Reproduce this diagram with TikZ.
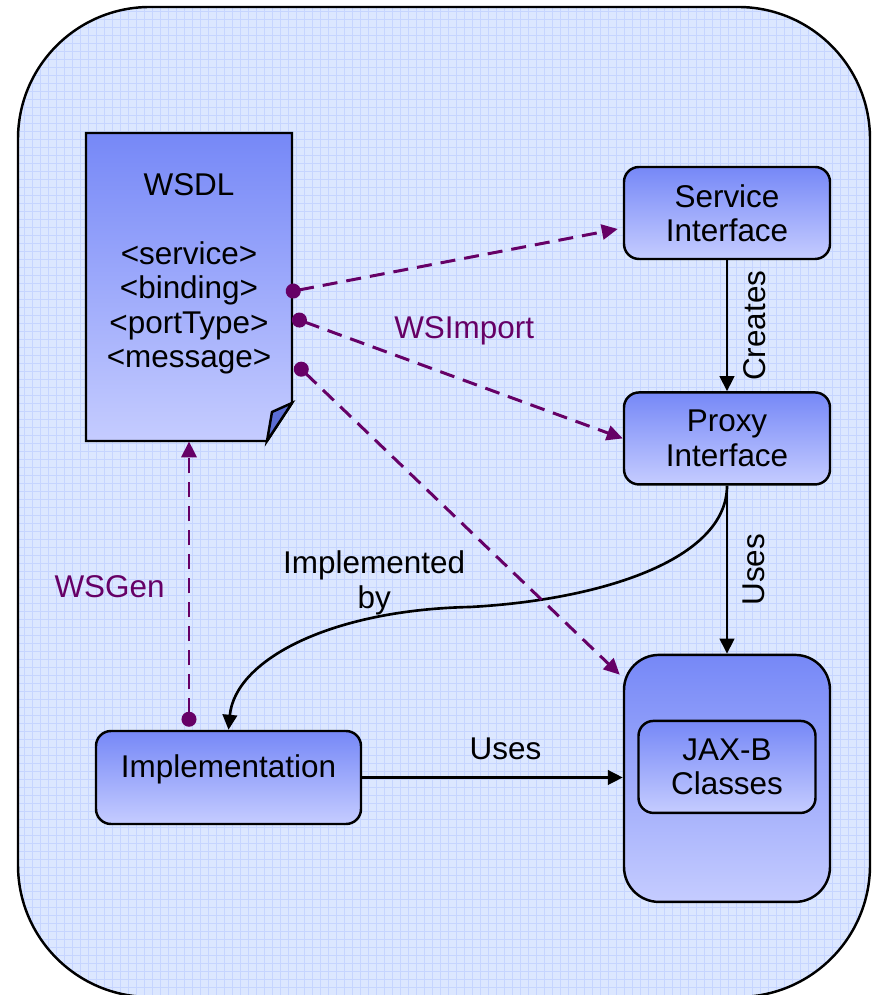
\documentclass[tikz,border=0pt]{standalone}
\usepackage{fontspec}
\setmainfont{Liberation Sans}
\usepackage{xcolor}
\usepackage{tikz}
\usetikzlibrary{arrows.meta,positioning,calc}

\definecolor{boxtop}{RGB}{118,136,247}
\definecolor{boxbot}{RGB}{197,204,255}
\definecolor{foldblue}{RGB}{92,110,212}
\definecolor{paper}{RGB}{220,231,255}
\definecolor{gridblue}{RGB}{198,213,255}
\definecolor{wsplum}{RGB}{102,0,102}

\begin{document}
\begin{tikzpicture}[
        font=\fontsize{17.9}{19.6}\selectfont,
        box/.style={draw, line width=1.4pt, rounded corners=0.3cm, top color=boxtop,
                    bottom color=boxbot, align=center, minimum width=4.12cm, minimum height=1.84cm},
        tool/.style={-{Triangle[length=0.3cm,width=0.29cm]}, line width=1.5pt},
        gen/.style={{Circle[length=0.3cm]}-{Triangle[length=0.32cm,width=0.3cm]}, wsplum,
                    line width=1.7pt, dash pattern=on 0.3cm off 0.18cm}
    ]
        \useasboundingbox (0,0) rectangle (17.44,19.9);

        % frame on graph paper
        \begin{scope}
            \clip[rounded corners=2.64cm] (0.36,-0.04) rectangle (17.40,19.76);
            \fill[paper] (0,0) rectangle (17.44,19.9);
            \draw[gridblue, line width=0.4pt, step=0.16] (0,0) grid (17.44,19.9);
        \end{scope}
        \draw[line width=1.4pt, rounded corners=2.64cm] (0.36,-0.04) rectangle (17.40,19.76);

        % WSDL document with folded corner
        \shadedraw[top color=boxtop, bottom color=boxbot, line width=1.4pt]
            (1.72,17.24) -- (5.84,17.24) -- (5.84,11.84) -- (5.34,11.08) -- (1.72,11.08) -- cycle;
        \filldraw[fill=foldblue, line width=1.4pt] (5.84,11.84) -- (5.34,11.08) -- (5.44,11.66) -- cycle;
        \node[minimum width=4.12cm, minimum height=6.16cm] (wsdl) at (3.78,14.16) {};
        \node[align=center] (wsdltext) at (3.78,14.42)
            {WSDL\\[19.4pt]<service>\\<binding>\\<portType>\\<message>};

        \node[box] (service) at (14.54,15.64) {Service\\Interface};
        \node[box, below=2.62cm of service] (proxy) {Proxy\\Interface};
        \node[box, rounded corners=0.7cm, minimum height=4.94cm, below=3.36cm of proxy] (jax) {};
        \node[box, minimum width=3.54cm] (classes) at ([yshift=0.23cm]jax.center) {JAX-B\\Classes};
        \node[box, minimum width=5.3cm, minimum height=1.86cm, text depth=0.46cm] (impl) at (4.57,4.35)
            {Implementation};

        \draw[tool] (service) -- node[midway, rotate=90, anchor=north, inner sep=0.3cm] {Creates} (proxy);
        \draw[tool] (proxy.south) -- node[midway, rotate=90, anchor=north, inner sep=0.3cm] {Uses}
            (proxy.south |- jax.north);
        \draw[tool] (impl) -- node[pos=0.55, above=0.22cm] {Uses} (impl -| jax.west);
        \draw[tool] (proxy.south) .. controls (14.54,8.7) and (12.0,7.9) .. (9.4,7.76)
            .. controls (6.6,7.7) and (4.7,6.7) .. (impl.north)
            node[pos=0.25, above, inner sep=1pt, align=center] {Implemented\\by};

        % generated artefacts
        \coordinate (genfoot) at ([yshift=0.06cm]impl.north -| wsdl.south);
        \draw[gen] (genfoot) -- node[pos=0.49, left=0.34cm] {WSGen} (genfoot |- wsdl.south);
        \draw[gen] ([xshift=-0.13cm, yshift=-0.11cm]wsdl.east) -- ([xshift=-0.1cm, yshift=-0.32cm]service.west);
        \draw[gen] ([yshift=-0.61cm]wsdl.east) -- node[pos=0.52, above=0.56cm] {WSImport} (proxy.west);
        \draw[gen] ([xshift=0.07cm, yshift=-1.54cm]wsdl.east) -- ([xshift=-0.06cm, yshift=-0.42cm]jax.north west);
    \end{tikzpicture}
\end{document}
